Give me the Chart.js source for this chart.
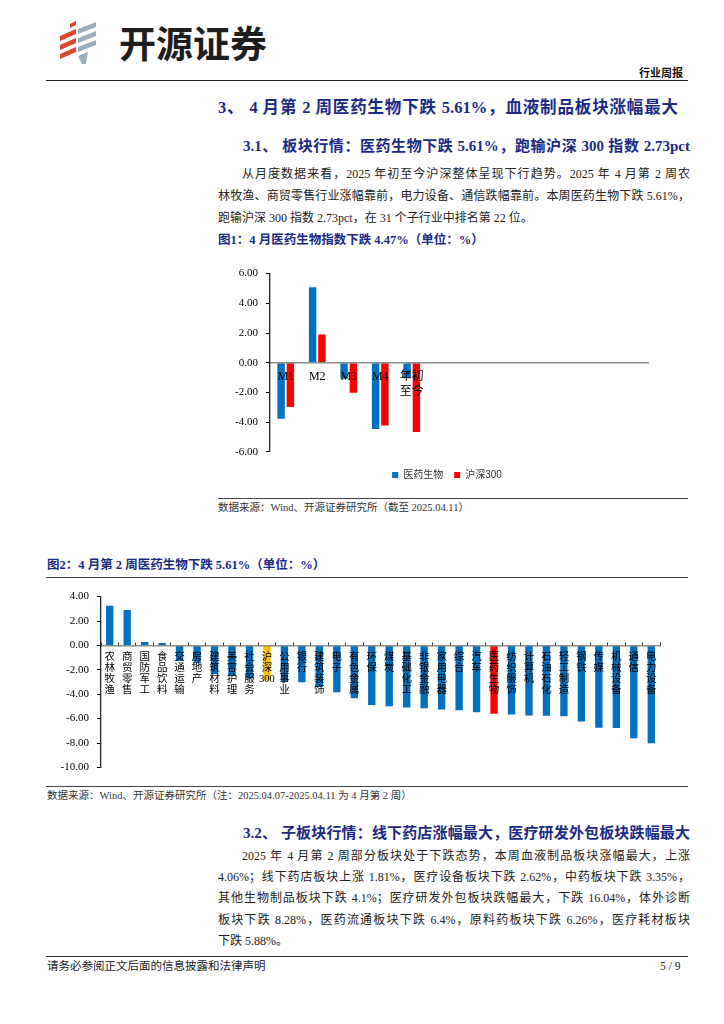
<!DOCTYPE html>
<html><head><meta charset="utf-8">
<script src="https://cdn.jsdelivr.net/npm/chart.js@4.4.1/dist/chart.umd.min.js"></script>
<style>
html,body{margin:0;padding:0;background:#fff;}
body{width:724px;height:1024px;position:relative;overflow:hidden;font-family:'Liberation Serif','Noto Sans CJK SC',serif;color:#1a1a1a;}
.a{position:absolute;white-space:pre;}
.j{position:absolute;text-align:justify;text-align-last:justify;}
.hr{position:absolute;height:0;border-top:1px solid #333;}
.navy{color:#1b2a84;font-weight:bold;}
.body{font-size:12px;line-height:22px;color:#222;}
canvas{position:absolute;}
</style></head><body>

<svg class="a" style="left:56px;top:20px" width="44" height="48" viewBox="0 0 44 48">
  <g fill="#d9452f">
    <polygon points="14,4 20,1 20,5 14,8"/>
    <polygon points="4,16 20,9 20,14 4,21"/>
    <polygon points="4,25 20,18 20,23 4,30"/>
    <polygon points="4,34 20,27 20,32 4,39"/>
  </g>
  <g fill="#9aaebf">
    <polygon points="22,9 40,2 40,7 22,14"/>
    <polygon points="22,18 40,11 40,16 22,23"/>
    <polygon points="22,27 40,20 40,25 22,32"/>
    <polygon points="22,36 32,32 30,44 26,44"/>
  </g>
</svg>
<div class="a" style="left:119px;top:20px;font-family:'Noto Sans CJK SC';font-weight:bold;font-size:37px;line-height:44px;color:#1e1e1e;">开源证券</div>
<div class="a" style="left:639px;top:64px;font-family:'Noto Sans CJK SC';font-weight:bold;font-size:11px;line-height:16px;color:#111;">行业周报</div>
<div class="hr" style="left:46px;top:80px;width:642px;border-top:1.5px solid #222;"></div>

<div class="j navy" style="left:218px;top:97px;width:460px;font-size:16.5px;line-height:22px;">3、 4 月第 2 周医药生物下跌 5.61%，血液制品板块涨幅最大</div>
<div class="j navy" style="left:243px;top:136px;width:447px;font-size:15px;line-height:20px;">3.1、 板块行情：医药生物下跌 5.61%，跑输沪深 300 指数 2.73pct</div>

<div class="j body" style="left:242px;top:163px;width:448px;">从月度数据来看，2025 年初至今沪深整体呈现下行趋势。2025 年 4 月第 2 周农</div>
<div class="j body" style="left:218px;top:185px;width:472px;">林牧渔、商贸零售行业涨幅靠前，电力设备、通信跌幅靠前。本周医药生物下跌 5.61%，</div>
<div class="a body" style="left:218px;top:207px;">跑输沪深 300 指数 2.73pct，在 31 个子行业中排名第 22 位。</div>

<div class="a navy" style="left:218px;top:232px;font-size:12.5px;line-height:16px;">图1：4 月医药生物指数下跌 4.47%（单位：%）</div>

<canvas id="c1" width="472" height="231" style="left:218px;top:259px;"></canvas>

<div class="hr" style="left:218px;top:498px;width:470px;border-top:1px solid #444;"></div>
<div class="a" style="left:218px;top:501px;font-size:10.5px;line-height:14px;color:#333;">数据来源：Wind、开源证券研究所（截至 2025.04.11）</div>

<div class="a navy" style="left:47px;top:557px;font-size:12.5px;line-height:16px;">图2：4 月第 2 周医药生物下跌 5.61%（单位：%）</div>
<div class="hr" style="left:46px;top:577px;width:642px;border-top:1px solid #444;"></div>

<canvas id="c2" width="641" height="200" style="left:47px;top:582px;"></canvas>

<div class="hr" style="left:46px;top:786px;width:642px;border-top:1px solid #444;"></div>
<div class="a" style="left:47px;top:789px;font-size:10.5px;line-height:14px;color:#333;">数据来源：Wind、开源证券研究所（注：2025.04.07-2025.04.11 为 4 月第 2 周）</div>

<div class="j navy" style="left:243px;top:823px;width:447px;font-size:15px;line-height:20px;">3.2、 子板块行情：线下药店涨幅最大，医疗研发外包板块跌幅最大</div>

<div class="j body" style="left:242px;top:845px;width:448px;">2025 年 4 月第 2 周部分板块处于下跌态势，本周血液制品板块涨幅最大，上涨</div>
<div class="j body" style="left:218px;top:866px;width:472px;">4.06%；线下药店板块上涨 1.81%，医疗设备板块下跌 2.62%，中药板块下跌 3.35%，</div>
<div class="j body" style="left:218px;top:887px;width:472px;">其他生物制品板块下跌 4.1%；医疗研发外包板块跌幅最大，下跌 16.04%，体外诊断</div>
<div class="j body" style="left:218px;top:909px;width:472px;">板块下跌 8.28%，医药流通板块下跌 6.4%，原料药板块下跌 6.26%，医疗耗材板块</div>
<div class="a body" style="left:218px;top:930px;">下跌 5.88%。</div>

<div class="hr" style="left:46px;top:956px;width:642px;border-top:1.5px solid #333;"></div>
<div class="a" style="left:47px;top:958px;font-size:11.5px;line-height:16px;color:#222;">请务必参阅正文后面的信息披露和法律声明</div>
<div class="a" style="left:660px;top:958px;font-size:11.5px;line-height:16px;color:#222;">5 / 9</div>

<script>
// ---- Chart 1 data ----
const monthLabels = ['M1', 'M2', 'M3', 'M4', ['年初', '至今'], '', '', '', '', '', '', ''];
const medicineMonthly = [-3.78, 5.08, -1.08, -4.47, -1.05];
const hs300Monthly = [-2.99, 1.90, -2.03, -4.23, -4.66];
const chart1SeriesNames = ['医药生物', '沪深300'];

// ---- Chart 2 data ----
const industryNames = ['农林牧渔','商贸零售','国防军工','食品饮料','交通运输','房地产','建筑材料','美容护理','社会服务','沪深300','公用事业','银行','建筑装饰','电子','有色金属','环保','煤炭','基础化工','非银金融','家用电器','综合','汽车','医药生物','纺织服饰','计算机','石油石化','轻工制造','钢铁','传媒','机械设备','通信','电力设备'];
const weeklyChange = [3.25, 2.90, 0.27, 0.19, -1.27, -1.46, -2.36, -2.49, -2.71, -2.88, -2.95, -3.03, -3.40, -3.85, -4.34, -4.88, -4.99, -5.10, -5.15, -5.26, -5.31, -5.47, -5.61, -5.66, -5.74, -5.77, -5.80, -6.23, -6.75, -6.77, -7.62, -8.02];

const SERIF = "'Liberation Serif','Noto Sans CJK SC',serif";
const stackChars = s => s.match(/\d+|./g);

new Chart(document.getElementById('c1'), {
  type: 'bar',
  data: {
    labels: monthLabels,
    datasets: [
      {label: chart1SeriesNames[0], data: medicineMonthly, backgroundColor: '#0070C0', categoryPercentage: 0.59, barPercentage: 0.8},
      {label: chart1SeriesNames[1], data: hs300Monthly, backgroundColor: '#FF0000', categoryPercentage: 0.59, barPercentage: 0.8}
    ]
  },
  options: {
    responsive: false, animation: false, devicePixelRatio: 1,
    layout: {padding: {top: 0, left: 0, right: 14, bottom: 0}},
    plugins: {
      tooltip: {enabled: false},
      legend: {
        position: 'bottom',
        title: {display: true, text: ' ', font: {size: 6}, padding: 0},
        labels: {boxWidth: 6, boxHeight: 6, padding: 11, color: '#333', font: {family: "'Liberation Sans','Noto Sans CJK SC',sans-serif", size: 10}}
      }
    },
    scales: {
      x: {
        position: {y: 0},
        grid: {display: false, drawTicks: false},
        border: {display: true, color: '#8c8c8c', width: 1.5, z: 1},
        ticks: {z: 1, padding: 7, color: '#000', autoSkip: false, maxRotation: 0, font: {family: SERIF, size: 12, lineHeight: 1.25}}
      },
      y: {
        min: -6, max: 6,
        afterFit: s => { s.width = 52; },
        ticks: {stepSize: 2, padding: 8, color: '#000', callback: v => v.toFixed(2), font: {family: SERIF, size: 11}},
        grid: {drawOnChartArea: false, drawTicks: true, tickLength: 4, tickWidth: 1, color: '#000'},
        border: {display: true, color: '#222', width: 1.3, z: 2}
      },
      yPad: {
        position: 'right', display: true,
        afterFit: s => { s.width = 28; },
        grid: {display: false, drawTicks: false}, border: {display: false}, ticks: {display: false}
      }
    }
  }
});

new Chart(document.getElementById('c2'), {
  type: 'bar',
  data: {
    labels: industryNames,
    datasets: [{
      label: '周涨跌幅',
      data: weeklyChange,
      backgroundColor: industryNames.map(n => n === '沪深300' ? '#FFC000' : (n === '医药生物' ? '#FF0000' : '#0070C0')),
      categoryPercentage: 1, barPercentage: 0.42
    }]
  },
  options: {
    responsive: false, animation: false, devicePixelRatio: 1,
    layout: {padding: {top: 0, left: 0, right: 28, bottom: 0}},
    plugins: {legend: {display: false}, tooltip: {enabled: false}},
    scales: {
      x: {
        position: {y: 0},
        grid: {display: true, drawOnChartArea: false, drawTicks: true, tickLength: -4, offset: true, color: '#333'},
        border: {display: true, color: '#8c8c8c', width: 1.5, z: 1},
        ticks: {z: 1, padding: 10, color: '#000', autoSkip: false, maxRotation: 0,
          callback: (v, i) => stackChars(industryNames[i]),
          font: {family: SERIF, size: 10.5, lineHeight: 1.05}}
      },
      y: {
        min: -10, max: 4,
        afterFit: s => { s.width = 54; },
        ticks: {stepSize: 2, padding: 8, color: '#000', callback: v => v.toFixed(2), font: {family: SERIF, size: 11}},
        grid: {drawOnChartArea: false, drawTicks: true, tickLength: 4, color: '#000'},
        border: {display: true, color: '#222', width: 1.3, z: 2}
      }
    }
  }
});
</script>
</body></html>
